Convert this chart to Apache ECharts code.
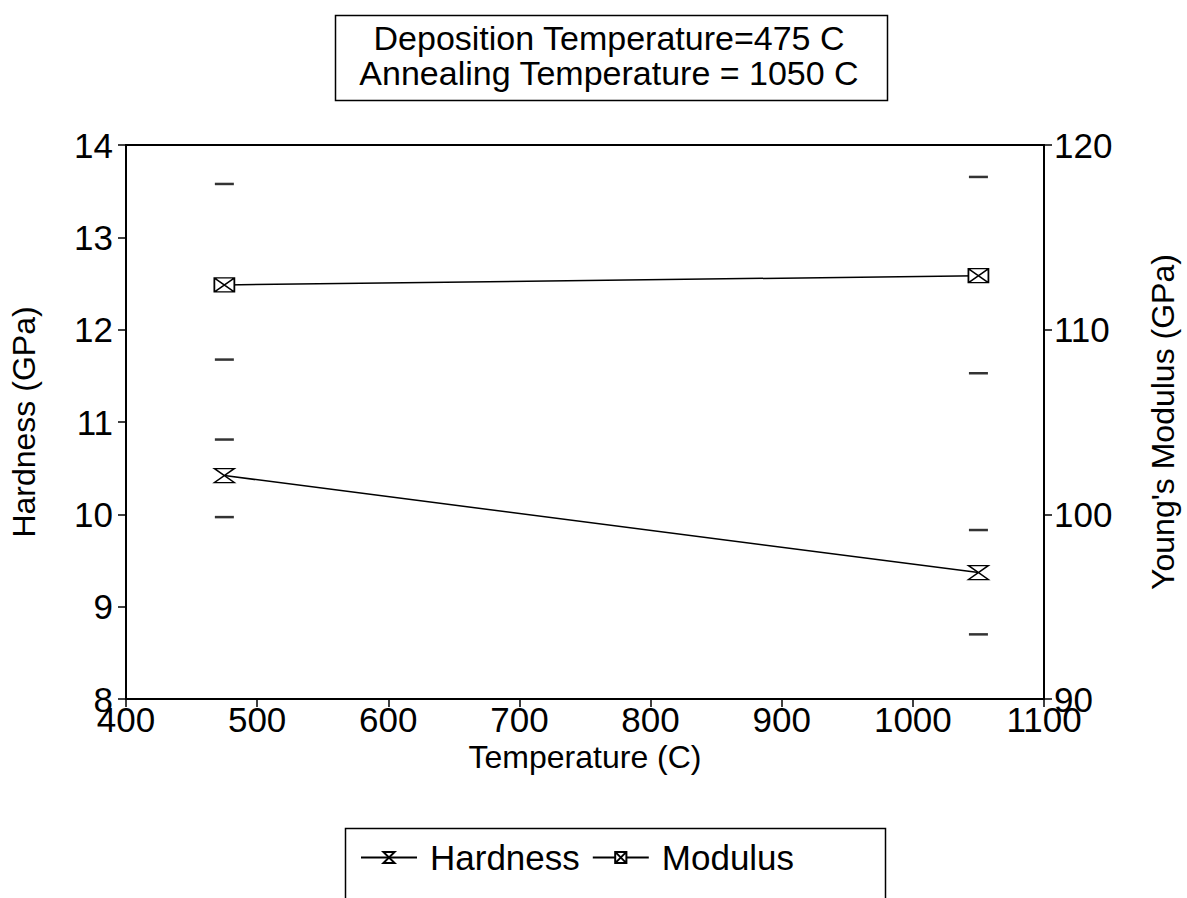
<!DOCTYPE html>
<html>
<head>
<meta charset="utf-8">
<script src="https://cdn.jsdelivr.net/npm/echarts@6/dist/echarts.min.js"></script>
<style>
  html, body { margin: 0; padding: 0; background: #fff; }
  #chart { width: 1187px; height: 898px; }
</style>
</head>
<body>
<div id="chart"></div>
<script>
// Sample temperatures (C)
const temperatures = [475, 1050];
// Hardness (GPa) with the ends of its error range
const hardness = [10.42, 9.37];
const hardnessLow = [9.97, 8.70];
const hardnessHigh = [10.81, 9.83];
// Young's modulus (GPa) with the ends of its error range
const modulus = [112.42, 112.92];
const modulusLow = [108.38, 107.64];
const modulusHigh = [117.89, 118.27];

const titleLines = ['Deposition Temperature=475 C', 'Annealing Temperature = 1050 C'];

const FONT = "'Liberation Sans', Arial, Helvetica, sans-serif";
const INK = '#000';

// Hourglass: top bar, crossed diagonals, bottom bar
const hourglassSymbol = 'path://M0,0 L20,0 L0,14 L20,14 Z';
// Box with crossed diagonals
const envelopeSymbol = 'path://M0,0 L20,0 L20,14 L0,14 Z M0,0 L20,14 M20,0 L0,14';

const pairs = (xs, ys) => xs.map((x, i) => [x, ys[i]]);
const capPoints = (xs, lo, hi) => xs.flatMap((x, i) => [[x, lo[i]], [x, hi[i]]]);

const chart = echarts.init(document.getElementById('chart'), null, { renderer: 'svg' });

const tickLabel = (margin) => ({
  color: INK, fontFamily: FONT, fontSize: 35, lineHeight: 20, margin: margin,
  formatter: (v) => String(v)
});
const nameText = { color: INK, fontFamily: FONT, fontSize: 32 };
const axisLine = { show: true, lineStyle: { color: INK, width: 2 } };
const axisTick = { show: true, inside: false, length: 8, lineStyle: { color: INK, width: 1.5 } };

// Title box: a framed pair of centred lines
const titleGraphics = titleLines.map((line, i) => ({
  type: 'text', x: 609, y: 38 + i * 35, silent: true,
  style: {
    text: line, fill: INK, font: '34px ' + FONT,
    align: 'center', verticalAlign: 'middle'
  }
}));

chart.setOption({
  backgroundColor: '#fff',
  animation: false,
  grid: {
    left: 117, right: 131, top: 145, bottom: 199,
    show: true, borderColor: INK, borderWidth: 2, backgroundColor: 'transparent'
  },
  legend: {
    data: ['Hardness', 'Modulus'],
    left: 355, top: 835,
    itemWidth: 56, itemHeight: 14, itemGap: 12,
    textStyle: { color: INK, fontFamily: FONT, fontSize: 35, padding: [0, 0, 0, 8] },
    inactiveColor: INK
  },
  xAxis: {
    type: 'value', min: 400, max: 1100, interval: 100,
    name: 'Temperature (C)', nameLocation: 'middle', nameGap: 27,
    nameTextStyle: nameText,
    axisLine: axisLine,
    axisTick: axisTick,
    axisLabel: tickLabel(10),
    splitLine: { show: false }
  },
  yAxis: [
    {
      type: 'value', min: 8, max: 14, interval: 1, position: 'left',
      name: 'Hardness (GPa)', nameLocation: 'middle', nameGap: 86,
      nameTextStyle: nameText,
      axisLine: axisLine,
      axisTick: axisTick,
      axisLabel: tickLabel(13),
      splitLine: { show: false }
    },
    {
      type: 'value', min: 90, max: 120, interval: 10, position: 'right',
      name: "Young's Modulus (GPa)", nameLocation: 'middle', nameGap: 103,
      nameTextStyle: nameText,
      axisLine: axisLine,
      axisTick: axisTick,
      axisLabel: tickLabel(10),
      splitLine: { show: false }
    }
  ],
  series: [
    {
      name: 'Hardness', type: 'line', yAxisIndex: 0,
      data: pairs(temperatures, hardness),
      symbol: hourglassSymbol, symbolSize: [20, 14], symbolKeepAspect: false,
      lineStyle: { color: INK, width: 1.5 },
      itemStyle: { color: '#fff', borderColor: INK, borderWidth: 1.5 },
      z: 3
    },
    {
      name: 'Modulus', type: 'line', yAxisIndex: 1,
      data: pairs(temperatures, modulus),
      symbol: envelopeSymbol, symbolSize: [20, 14], symbolKeepAspect: false,
      lineStyle: { color: INK, width: 1.5 },
      itemStyle: { color: '#fff', borderColor: INK, borderWidth: 1.5 },
      z: 3
    },
    {
      name: 'Hardness range', type: 'scatter', yAxisIndex: 0,
      data: capPoints(temperatures, hardnessLow, hardnessHigh),
      symbol: 'rect', symbolSize: [19, 2.5],
      itemStyle: { color: INK }, silent: true
    },
    {
      name: 'Modulus range', type: 'scatter', yAxisIndex: 1,
      data: capPoints(temperatures, modulusLow, modulusHigh),
      symbol: 'rect', symbolSize: [19, 2.5],
      itemStyle: { color: INK }, silent: true
    }
  ],
  graphic: [
    {
      type: 'rect', left: 333, top: 13, silent: true,
      shape: { width: 552, height: 85 },
      style: { fill: 'none', stroke: INK, lineWidth: 1.5 }
    },
    ...titleGraphics,
    {
      type: 'rect', left: 343, top: 826, silent: true,
      shape: { width: 540, height: 90 },
      style: { fill: 'none', stroke: INK, lineWidth: 1.5 }
    }
  ]
});
</script>
</body>
</html>
